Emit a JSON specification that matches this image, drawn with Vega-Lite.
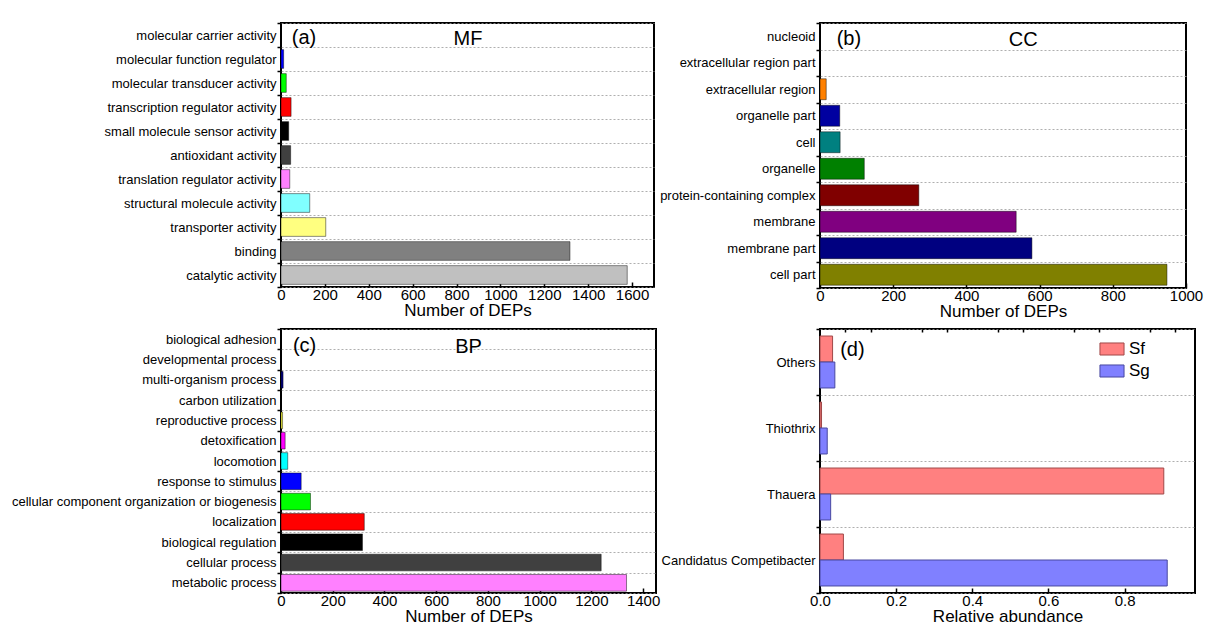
{
  "$schema": "https://vega.github.io/schema/vega-lite/v6.json",
  "padding": {"left": 10, "top": 16, "right": 0, "bottom": 0},
  "columns": 2,
  "spacing": {"row": 41, "column": 164},
  "bounds": "flush",
  "resolve": {"scale": {"color": "independent", "stroke": "independent", "x": "independent", "y": "independent"}},
  "datasets": {
    "mf": [
      {"term": "molecular carrier activity", "count": 0},
      {"term": "molecular function regulator", "count": 12},
      {"term": "molecular transducer activity", "count": 24},
      {"term": "transcription regulator activity", "count": 46},
      {"term": "small molecule sensor activity", "count": 35},
      {"term": "antioxidant activity", "count": 44},
      {"term": "translation regulator activity", "count": 40},
      {"term": "structural molecule activity", "count": 131},
      {"term": "transporter activity", "count": 204},
      {"term": "binding", "count": 1317},
      {"term": "catalytic activity", "count": 1578}
    ],
    "cc": [
      {"term": "nucleoid", "count": 0},
      {"term": "extracellular region part", "count": 0},
      {"term": "extracellular region", "count": 17},
      {"term": "organelle part", "count": 54},
      {"term": "cell", "count": 55},
      {"term": "organelle", "count": 121},
      {"term": "protein-containing complex", "count": 270},
      {"term": "membrane", "count": 536},
      {"term": "membrane part", "count": 579},
      {"term": "cell part", "count": 948}
    ],
    "bp": [
      {"term": "biological adhesion", "count": 0},
      {"term": "developmental process", "count": 0},
      {"term": "multi-organism process", "count": 8},
      {"term": "carbon utilization", "count": 0},
      {"term": "reproductive process", "count": 6},
      {"term": "detoxification", "count": 16},
      {"term": "locomotion", "count": 26},
      {"term": "response to stimulus", "count": 78},
      {"term": "cellular component organization or biogenesis", "count": 114},
      {"term": "localization", "count": 322},
      {"term": "biological regulation", "count": 315},
      {"term": "cellular process", "count": 1238},
      {"term": "metabolic process", "count": 1336}
    ],
    "genus": [
      {"genus": "Others", "sample": "Sf", "abundance": 0.033},
      {"genus": "Others", "sample": "Sg", "abundance": 0.039},
      {"genus": "Thiothrix", "sample": "Sf", "abundance": 0.004},
      {"genus": "Thiothrix", "sample": "Sg", "abundance": 0.019},
      {"genus": "Thauera", "sample": "Sf", "abundance": 0.903},
      {"genus": "Thauera", "sample": "Sg", "abundance": 0.028},
      {"genus": "Candidatus Competibacter", "sample": "Sf", "abundance": 0.0615},
      {"genus": "Candidatus Competibacter", "sample": "Sg", "abundance": 0.912}
    ]
  },
  "concat": [
    {
      "width": 373, "height": 264,
      "layer": [
        {
          "data": {"name": "mf"},
          "mark": {"type": "bar", "height": {"band": 0.78}, "stroke": "black", "strokeOpacity": 0.45, "strokeWidth": 1},
          "encoding": {
            "y": {"field": "term", "type": "nominal", "title": null,
              "scale": {"domain": ["molecular carrier activity", "molecular function regulator", "molecular transducer activity", "transcription regulator activity", "small molecule sensor activity", "antioxidant activity", "translation regulator activity", "structural molecule activity", "transporter activity", "binding", "catalytic activity"], "paddingInner": 0, "paddingOuter": 0}},
            "x": {"field": "count", "type": "quantitative", "title": "Number of DEPs",
              "scale": {"domain": [0, 1700], "nice": false},
              "axis": {"values": [0, 200, 400, 600, 800, 1000, 1200, 1400, 1600], "format": "d"}},
            "color": {"field": "term", "type": "nominal", "legend": null,
              "scale": {"domain": ["molecular carrier activity", "molecular function regulator", "molecular transducer activity", "transcription regulator activity", "small molecule sensor activity", "antioxidant activity", "translation regulator activity", "structural molecule activity", "transporter activity", "binding", "catalytic activity"],
                "range": ["#8080ff", "#0000ff", "#00ff00", "#ff0000", "#000000", "#404040", "#ff80ff", "#80ffff", "#ffff80", "#808080", "#c0c0c0"]}}
          }
        },
        {
          "data": {"values": [{"t": "(a)"}]},
          "mark": {"type": "text", "fontSize": 20, "dy": 3, "color": "black"},
          "encoding": {
            "x": {"datum": 105, "type": "quantitative"},
            "y": {"datum": "molecular carrier activity", "type": "nominal"},
            "text": {"field": "t"}
          }
        },
        {
          "data": {"values": [{"t": "MF"}]},
          "mark": {"type": "text", "fontSize": 20, "dy": 4, "color": "black"},
          "encoding": {
            "x": {"datum": 852, "type": "quantitative"},
            "y": {"datum": "molecular carrier activity", "type": "nominal"},
            "text": {"field": "t"}
          }
        }
      ]
    },
    {
      "width": 366, "height": 265,
      "layer": [
        {
          "data": {"name": "cc"},
          "mark": {"type": "bar", "height": {"band": 0.79}, "stroke": "black", "strokeOpacity": 0.45, "strokeWidth": 1},
          "encoding": {
            "y": {"field": "term", "type": "nominal", "title": null,
              "scale": {"domain": ["nucleoid", "extracellular region part", "extracellular region", "organelle part", "cell", "organelle", "protein-containing complex", "membrane", "membrane part", "cell part"], "paddingInner": 0, "paddingOuter": 0}},
            "x": {"field": "count", "type": "quantitative", "title": "Number of DEPs",
              "scale": {"domain": [0, 1000], "nice": false},
              "axis": {"values": [0, 200, 400, 600, 800, 1000], "format": "d"}},
            "color": {"field": "term", "type": "nominal", "legend": null,
              "scale": {"domain": ["nucleoid", "extracellular region part", "extracellular region", "organelle part", "cell", "organelle", "protein-containing complex", "membrane", "membrane part", "cell part"],
                "range": ["#ff8080", "#8080ff", "#ff8000", "#0000a0", "#008080", "#008000", "#800000", "#800080", "#000080", "#808000"]}}
          }
        },
        {
          "data": {"values": [{"t": "(b)"}]},
          "mark": {"type": "text", "fontSize": 20, "dy": 3, "color": "black"},
          "encoding": {
            "x": {"datum": 79, "type": "quantitative"},
            "y": {"datum": "nucleoid", "type": "nominal"},
            "text": {"field": "t"}
          }
        },
        {
          "data": {"values": [{"t": "CC"}]},
          "mark": {"type": "text", "fontSize": 20, "dy": 4, "color": "black"},
          "encoding": {
            "x": {"datum": 555, "type": "quantitative"},
            "y": {"datum": "nucleoid", "type": "nominal"},
            "text": {"field": "t"}
          }
        }
      ]
    },
    {
      "width": 375, "height": 264,
      "layer": [
        {
          "data": {"name": "bp"},
          "mark": {"type": "bar", "height": {"band": 0.82}, "stroke": "black", "strokeOpacity": 0.45, "strokeWidth": 1},
          "encoding": {
            "y": {"field": "term", "type": "nominal", "title": null,
              "scale": {"domain": ["biological adhesion", "developmental process", "multi-organism process", "carbon utilization", "reproductive process", "detoxification", "locomotion", "response to stimulus", "cellular component organization or biogenesis", "localization", "biological regulation", "cellular process", "metabolic process"], "paddingInner": 0, "paddingOuter": 0}},
            "x": {"field": "count", "type": "quantitative", "title": "Number of DEPs",
              "scale": {"domain": [0, 1450], "nice": false},
              "axis": {"values": [0, 200, 400, 600, 800, 1000, 1200, 1400], "format": "d"}},
            "color": {"field": "term", "type": "nominal", "legend": null,
              "scale": {"domain": ["biological adhesion", "developmental process", "multi-organism process", "carbon utilization", "reproductive process", "detoxification", "locomotion", "response to stimulus", "cellular component organization or biogenesis", "localization", "biological regulation", "cellular process", "metabolic process"],
                "range": ["#808080", "#800080", "#000080", "#808000", "#ffff40", "#ff00ff", "#00ffff", "#0000ff", "#00ff00", "#ff0000", "#000000", "#404040", "#ff80ff"]}}
          }
        },
        {
          "data": {"values": [{"t": "(c)"}]},
          "mark": {"type": "text", "fontSize": 20, "dy": 7, "color": "black"},
          "encoding": {
            "x": {"datum": 91, "type": "quantitative"},
            "y": {"datum": "biological adhesion", "type": "nominal"},
            "text": {"field": "t"}
          }
        },
        {
          "data": {"values": [{"t": "BP"}]},
          "mark": {"type": "text", "fontSize": 20, "dy": 8, "color": "black"},
          "encoding": {
            "x": {"datum": 725, "type": "quantitative"},
            "y": {"datum": "biological adhesion", "type": "nominal"},
            "text": {"field": "t"}
          }
        }
      ]
    },
    {
      "width": 375, "height": 264,
      "resolve": {"axis": {"x": "independent"}},
      "layer": [
        {
          "data": {"name": "genus"},
          "mark": {"type": "bar", "strokeWidth": 1},
          "encoding": {
            "y": {"field": "genus", "type": "nominal", "title": null,
              "scale": {"domain": ["Others", "Thiothrix", "Thauera", "Candidatus Competibacter"], "paddingInner": 0, "paddingOuter": 0}},
            "yOffset": {"field": "sample", "type": "nominal",
              "scale": {"domain": ["Sf", "Sg"], "paddingInner": 0, "paddingOuter": 0.27}},
            "x": {"field": "abundance", "type": "quantitative", "title": "Relative abundance",
              "scale": {"domain": [0, 0.985], "nice": false},
              "axis": {"values": [0, 0.2, 0.4, 0.6, 0.8], "format": ".1f"}},
            "color": {"field": "sample", "type": "nominal",
              "scale": {"domain": ["Sf", "Sg"], "range": ["#ff8080", "#8080ff"]},
              "legend": {"orient": "none", "legendX": 279, "legendY": 7, "title": null, "padding": 0,
                "symbolType": "M-1,-0.5H1V0.5H-1Z", "symbolSize": 580, "symbolStrokeWidth": 1,
                "labelFontSize": 17, "labelOffset": 4, "rowPadding": 0, "labelColor": "black"}},
            "stroke": {"field": "sample", "type": "nominal",
              "scale": {"domain": ["Sf", "Sg"], "range": ["#a04848", "#4848a0"]},
              "legend": {"orient": "none", "legendX": 279, "legendY": 7, "title": null, "padding": 0,
                "symbolType": "M-1,-0.5H1V0.5H-1Z", "symbolSize": 580, "symbolStrokeWidth": 1,
                "labelFontSize": 17, "labelOffset": 4, "rowPadding": 0, "labelColor": "black"}}
          }
        },
        {
          "data": {"values": [{"t": "(d)"}]},
          "mark": {"type": "text", "fontSize": 20, "dy": -12, "color": "black"},
          "encoding": {
            "x": {"datum": 0.085, "type": "quantitative",
              "axis": {"values": [0.0667, 0.1333, 0.2667, 0.3333, 0.4667, 0.5333, 0.6667, 0.7333, 0.8667, 0.9333], "labels": false, "tickSize": -3, "title": null}},
            "y": {"datum": "Others", "type": "nominal"},
            "text": {"field": "t"}
          }
        }
      ]
    }
  ],
  "config": {
    "font": "Liberation Sans",
    "view": {"stroke": "black", "strokeWidth": 2},
    "axisX": {
      "domain": false, "grid": false,
      "labelFontSize": 15, "labelColor": "black", "labelFlush": false, "labelOverlap": false,
      "labelPadding": 5,
      "tickSize": -5, "tickColor": "black", "tickWidth": 1.5,
      "titleFontSize": 17, "titleFontWeight": "normal", "titleColor": "black", "titlePadding": 0
    },
    "axisY": {
      "domain": false, "grid": true, "gridDash": [2, 2], "gridColor": "#9a9a9a", "gridWidth": 0.8,
      "tickBand": "extent", "tickSize": 4, "tickColor": "black", "tickWidth": 1.5,
      "labelFontSize": 13, "labelColor": "black", "labelPadding": 1, "labelLimit": 400
    }
  }
}
